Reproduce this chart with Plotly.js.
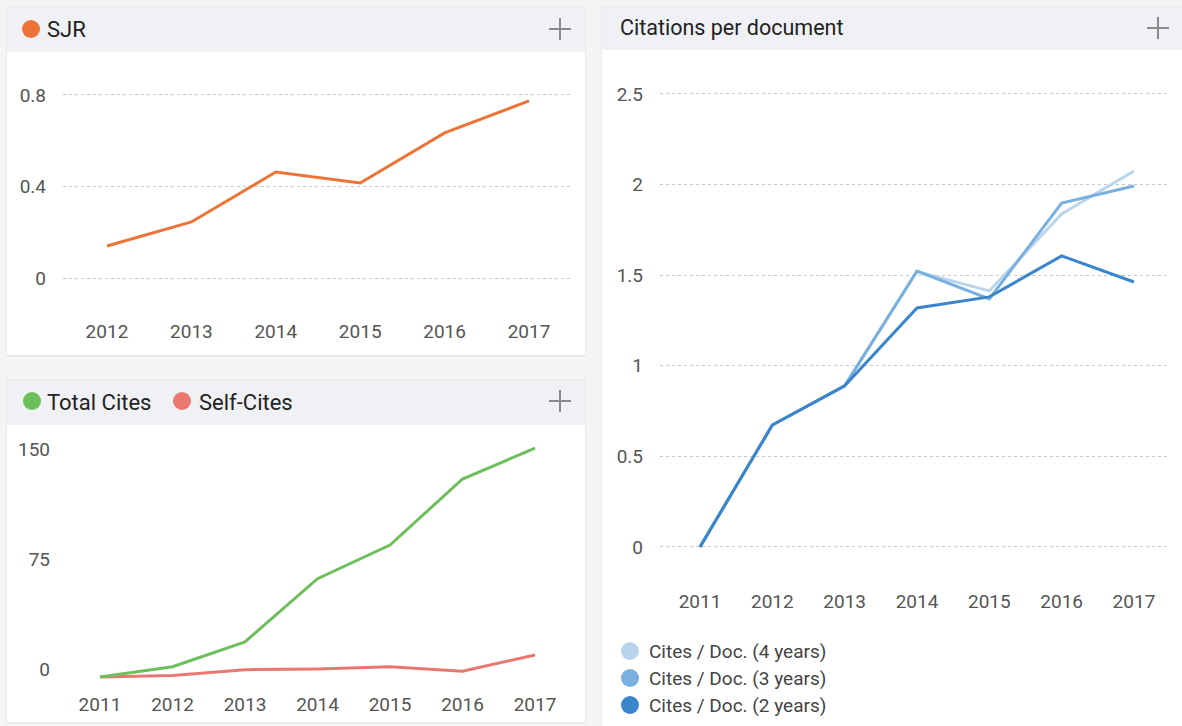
<!DOCTYPE html>
<html>
<head>
<meta charset="utf-8">
<script src="https://cdn.plot.ly/plotly-3.0.1.min.js"></script>
<style>html,body{margin:0;padding:0;background:#f4f4f4;}#chart{width:1182px;height:726px;}</style>
</head>
<body>
<div id="chart"></div>
<script>
// ---- data ----
const sjrYears = [2012, 2013, 2014, 2015, 2016, 2017];
const sjrValues = [0.14, 0.245, 0.463, 0.415, 0.634, 0.774];

const citeYears = [2011, 2012, 2013, 2014, 2015, 2016, 2017];
const totalCites = [0, 7, 24, 67, 90, 135, 156];
const selfCites = [0, 1, 5, 5.5, 7, 4, 15];

const cpdYears = [2011, 2012, 2013, 2014, 2015, 2016, 2017];
const cpd4 = [0, 0.673, 0.889, 1.52, 1.413, 1.838, 2.075];
const cpd3 = [0, 0.673, 0.889, 1.523, 1.369, 1.898, 1.992];
const cpd2 = [0, 0.673, 0.889, 1.319, 1.38, 1.606, 1.462];

const sjrTicks = [0, 0.4, 0.8];
const sjrTickText = ['0', '0.4', '0.8'];
const citeTicks = [0, 75, 150];
const cpdTicks = [0, 0.5, 1, 1.5, 2, 2.5];
const cpdTickText = ['0', '0.5', '1', '1.5', '2', '2.5'];

const headerLabels = ['SJR', 'Total Cites', 'Self-Cites', 'Citations per document'];
const legendLabels = ['Cites / Doc. (4 years)', 'Cites / Doc. (3 years)', 'Cites / Doc. (2 years)'];

// ---- styling ----
const W = 1182, H = 726;
const X = p => p / W;
const Y = p => 1 - p / H;
const C = {
  sjr: '#ec7436', total: '#6dbf5b', self: '#ec7770',
  b4: '#b9d5ee', b3: '#79b0e0', b2: '#3a85cb',
  header: '#f0f1f4', grid: '#c8c8c8', tick: '#555555', text: '#222222'
};
const FONT = 'Roboto, "Noto Sans", sans-serif';
const tickFont = {family: FONT, size: 19, color: C.tick};

const traces = [
  {x: sjrYears, y: sjrValues, xaxis: 'x', yaxis: 'y', mode: 'lines', line: {color: C.sjr, width: 3}, showlegend: false},
  {x: citeYears, y: selfCites, xaxis: 'x2', yaxis: 'y2', mode: 'lines', line: {color: C.self, width: 3}, showlegend: false},
  {x: citeYears, y: totalCites, xaxis: 'x2', yaxis: 'y2', mode: 'lines', line: {color: C.total, width: 3}, showlegend: false},
  {x: cpdYears, y: cpd4, xaxis: 'x3', yaxis: 'y3', mode: 'lines', line: {color: C.b4, width: 3}, showlegend: false},
  {x: cpdYears, y: cpd3, xaxis: 'x3', yaxis: 'y3', mode: 'lines', line: {color: C.b3, width: 3}, showlegend: false},
  {x: cpdYears, y: cpd2, xaxis: 'x3', yaxis: 'y3', mode: 'lines', line: {color: C.b2, width: 3}, showlegend: false}
];

function panel(x0, y0, x1, y1, hy) {
  return [
    {type: 'rect', xref: 'paper', yref: 'paper', x0: X(x0 - 1), x1: X(x1 + 1), y0: Y(y1 + 2), y1: Y(y0 - 1), fillcolor: '#e9e9e9', line: {width: 0}, layer: 'below'},
    {type: 'rect', xref: 'paper', yref: 'paper', x0: X(x0), x1: X(x1), y0: Y(y1), y1: Y(y0), fillcolor: '#ffffff', line: {width: 0}, layer: 'below'},
    {type: 'rect', xref: 'paper', yref: 'paper', x0: X(x0), x1: X(x1), y0: Y(hy), y1: Y(y0), fillcolor: C.header, line: {width: 0}, layer: 'below'}
  ];
}
function plus(cx, cy) {
  const a = 11;
  return [
    {type: 'line', xref: 'paper', yref: 'paper', x0: X(cx - a), x1: X(cx + a), y0: Y(cy), y1: Y(cy), line: {color: '#8a8a8a', width: 2}},
    {type: 'line', xref: 'paper', yref: 'paper', x0: X(cx), x1: X(cx), y0: Y(cy - a), y1: Y(cy + a), line: {color: '#8a8a8a', width: 2}}
  ];
}
function dot(cx, cy, r, color) {
  return {type: 'circle', xref: 'paper', yref: 'paper', x0: X(cx - r), x1: X(cx + r), y0: Y(cy + r), y1: Y(cy - r), fillcolor: color, line: {width: 0}};
}

const shapes = [].concat(
  panel(7, 7, 585, 355, 52),
  panel(7, 380, 585, 722, 425),
  panel(602, 7, 1185, 730, 50),
  plus(560, 29), plus(560, 401), plus(1158, 28),
  [dot(31, 29, 9, C.sjr), dot(32, 401, 9, C.total), dot(182, 401, 9, C.self),
   dot(630, 651, 9, C.b4), dot(630, 678, 9, C.b3), dot(630, 705, 9, C.b2)]
);

function ann(text, px, py, size, color) {
  return {text: text, xref: 'paper', yref: 'paper', x: X(px), y: Y(py), xanchor: 'left', yanchor: 'middle',
          showarrow: false, font: {family: FONT, size: size, color: color}};
}
const annotations = [
  ann(headerLabels[0], 45, 30, 22, C.text),
  ann(headerLabels[1], 45, 402, 22, C.text),
  ann(headerLabels[2], 197, 402, 22, C.text),
  ann(headerLabels[3], 618, 28, 21.5, C.text),
  ann(legendLabels[0], 647, 651, 19, '#444'),
  ann(legendLabels[1], 647, 678, 19, '#444'),
  ann(legendLabels[2], 647, 705, 19, '#444')
];

const baseX = {showgrid: false, zeroline: false, showline: false, ticks: '', tickfont: tickFont, dtick: 1, fixedrange: true};
const baseY = {showgrid: true, gridcolor: C.grid, griddash: 'dot', gridwidth: 1, zeroline: false, showline: false, ticks: '', tickfont: tickFont, fixedrange: true};

const layout = {
  width: W, height: H,
  margin: {l: 0, r: 0, t: 0, b: 0},
  paper_bgcolor: '#f4f4f4', plot_bgcolor: 'rgba(0,0,0,0)',
  showlegend: false,
  xaxis: Object.assign({}, baseX, {domain: [X(63), X(572)], range: [2011.479, 2017.509], anchor: 'y', ticklabelstandoff: 18}),
  yaxis: Object.assign({}, baseY, {domain: [Y(300), Y(70)], range: [-0.096, 0.909], tickvals: sjrTicks, ticktext: sjrTickText, anchor: 'x', ticklabelstandoff: 16}),
  xaxis2: Object.assign({}, baseX, {domain: [X(63), X(572)], range: [2010.49, 2017.51], anchor: 'y2', ticklabelstandoff: 1}),
  yaxis2: Object.assign({}, baseY, {showgrid: false, domain: [Y(690), Y(440)], range: [-8.86, 161.6], tickvals: citeTicks, anchor: 'x2', ticklabelstandoff: 12, ticklabelshift: -8}),
  xaxis3: Object.assign({}, baseX, {domain: [X(660), X(1170)], range: [2010.447, 2017.498], anchor: 'y3', ticklabelstandoff: 18}),
  yaxis3: Object.assign({}, baseY, {domain: [Y(570), Y(70)], range: [-0.127, 2.632], tickvals: cpdTicks, ticktext: cpdTickText, anchor: 'x3', ticklabelstandoff: 16}),
  shapes: shapes,
  annotations: annotations
};

Plotly.newPlot('chart', traces, layout, {displayModeBar: false, staticPlot: true});
</script>
</body>
</html>
